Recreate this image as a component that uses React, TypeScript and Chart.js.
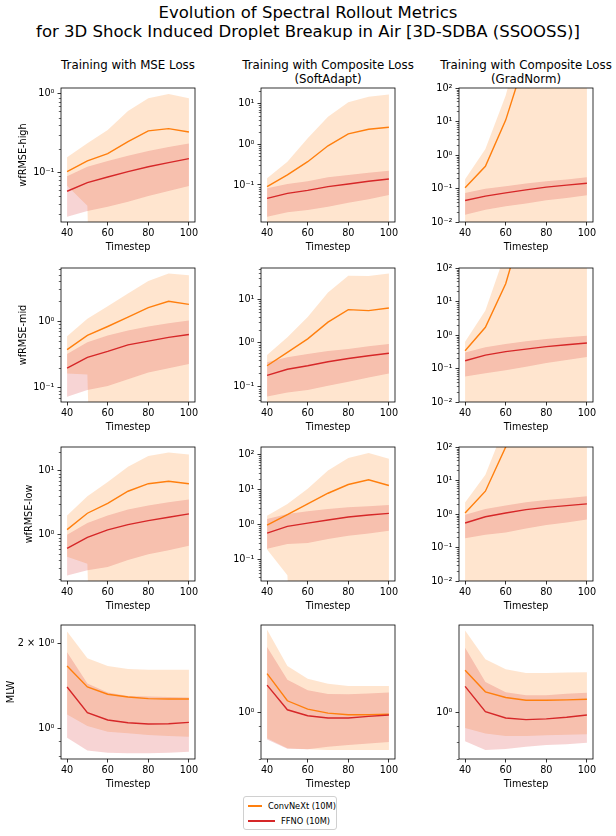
import React, { useEffect, useRef } from "react";
import { Chart, registerables } from "chart.js";

Chart.register(...registerables);

const FONT = "'DejaVu Sans', 'Liberation Sans', sans-serif";
Chart.defaults.font.family = FONT;
Chart.defaults.color = "#000";

// ---------------- data ----------------
const TIMESTEPS = [40, 50, 60, 70, 80, 90, 100];
const X_TICKS = [40, 60, 80, 100];
const TINY = 1e-12; // mean - std below zero (clipped on a log axis)

const COLUMN_TITLES = [
  ["Training with MSE Loss"],
  ["Training with Composite Loss", "(SoftAdapt)"],
  ["Training with Composite Loss", "(GradNorm)"],
];
const ROW_LABELS = ["wfRMSE-high", "wfRMSE-mid", "wfRMSE-low", "MLW"];
const SERIES_NAMES = ["ConvNeXt (10M)", "FFNO (10M)"];

// wfRMSE-high
const convHighMse = [0.103, 0.141, 0.174, 0.248, 0.339, 0.362, 0.329];
const convHighMseHi = [0.157, 0.237, 0.349, 0.608, 0.88, 1.0, 0.88];
const convHighMseLo = [0.068, 0.038, TINY, TINY, TINY, TINY, TINY];
const ffnoHighMse = [0.058, 0.0746, 0.088, 0.103, 0.119, 0.134, 0.151];
const ffnoHighMseHi = [0.09, 0.119, 0.141, 0.164, 0.189, 0.212, 0.234];
const ffnoHighMseLo = [0.0276, 0.0326, 0.037, 0.0428, 0.0506, 0.0586, 0.0678];

const convHighSoft = [0.091, 0.176, 0.372, 0.91, 1.78, 2.32, 2.6];
const convHighSoftHi = [0.146, 0.372, 1.4, 4.7, 10.6, 14.5, 16.5];
const convHighSoftLo = [TINY, TINY, TINY, TINY, TINY, TINY, TINY];
const ffnoHighSoft = [0.047, 0.0625, 0.074, 0.091, 0.106, 0.123, 0.14];
const ffnoHighSoftHi = [0.083, 0.106, 0.123, 0.155, 0.176, 0.2, 0.224];
const ffnoHighSoftLo = [0.0167, 0.0214, 0.0244, 0.0295, 0.0369, 0.0446, 0.057];

const convHighGrad = [0.105, 0.46, 11, 900, 3000, 5000, 6000];
const convHighGradHi = [0.19, 1.5, 60, 1e4, 3e4, 5e4, 6e4];
const convHighGradLo = [TINY, TINY, TINY, TINY, TINY, TINY, TINY];
const ffnoHighGrad = [0.044, 0.059, 0.074, 0.091, 0.11, 0.126, 0.144];
const ffnoHighGradHi = [0.074, 0.098, 0.117, 0.14, 0.165, 0.186, 0.217];
const ffnoHighGradLo = [0.0166, 0.0234, 0.0295, 0.0355, 0.0447, 0.052, 0.063];

// wfRMSE-mid
const convMidMse = [0.372, 0.61, 0.83, 1.15, 1.6, 1.99, 1.79];
const convMidMseHi = [0.59, 1.09, 1.67, 2.6, 4.0, 5.2, 4.9];
const convMidMseLo = [0.163, 0.158, TINY, TINY, TINY, TINY, TINY];
const ffnoMidMse = [0.196, 0.285, 0.35, 0.44, 0.5, 0.57, 0.63];
const ffnoMidMseHi = [0.32, 0.48, 0.61, 0.72, 0.83, 0.93, 1.02];
const ffnoMidMseLo = [0.073, 0.092, 0.106, 0.134, 0.169, 0.196, 0.226];

const convMidSoft = [0.3, 0.61, 1.24, 3.0, 5.8, 5.5, 6.3];
const convMidSoftHi = [0.53, 1.35, 3.9, 14.3, 34.5, 34, 39];
const convMidSoftLo = [TINY, TINY, TINY, TINY, TINY, TINY, TINY];
const ffnoMidSoft = [0.18, 0.25, 0.3, 0.37, 0.44, 0.51, 0.58];
const ffnoMidSoftHi = [0.36, 0.47, 0.56, 0.65, 0.73, 0.84, 0.95];
const ffnoMidSoftLo = [0.059, 0.073, 0.084, 0.104, 0.13, 0.161, 0.2];

const convMidGrad = [0.34, 1.7, 34, 4000, 1e4, 2e4, 3e4];
const convMidGradHi = [0.63, 5.4, 300, 3e4, 1e5, 1e5, 1e5];
const convMidGradLo = [TINY, TINY, TINY, TINY, TINY, TINY, TINY];
const ffnoMidGrad = [0.17, 0.25, 0.32, 0.38, 0.45, 0.51, 0.575];
const ffnoMidGradHi = [0.3, 0.43, 0.54, 0.65, 0.76, 0.85, 0.95];
const ffnoMidGradLo = [0.058, 0.072, 0.089, 0.112, 0.145, 0.18, 0.22];

// wfRMSE-low
const convLowMse = [1.2, 2.17, 3.1, 4.8, 6.3, 6.9, 6.3];
const convLowMseHi = [2.0, 4.0, 6.7, 11.6, 17.2, 19.5, 18.1];
const convLowMseLo = [0.45, 0.35, TINY, TINY, TINY, TINY, TINY];
const ffnoLowMse = [0.61, 0.91, 1.19, 1.44, 1.66, 1.88, 2.12];
const ffnoLowMseHi = [1.0, 1.53, 2.0, 2.48, 2.87, 3.24, 3.57];
const ffnoLowMseLo = [0.23, 0.277, 0.313, 0.4, 0.495, 0.573, 0.67];

const convLowSoft = [0.95, 1.88, 3.8, 7.7, 13.7, 18.7, 12.8];
const convLowSoftHi = [1.76, 3.8, 10.3, 34.6, 78, 109, 75];
const convLowSoftLo = [0.19, 0.035, TINY, TINY, TINY, TINY, TINY];
const ffnoLowSoft = [0.56, 0.87, 1.08, 1.32, 1.61, 1.84, 2.05];
const ffnoLowSoftHi = [1.41, 1.96, 2.34, 2.74, 3.06, 3.27, 3.56];
const ffnoLowSoftLo = [0.2, 0.27, 0.29, 0.376, 0.47, 0.546, 0.65];

const convLowGrad = [1.07, 4.8, 100, 5000, 2e4, 3e4, 4e4];
const convLowGradHi = [2.2, 14.8, 500, 5e4, 1e5, 1e5, 1e5];
const convLowGradLo = [TINY, TINY, TINY, TINY, TINY, TINY, TINY];
const ffnoLowGrad = [0.54, 0.83, 1.07, 1.35, 1.58, 1.78, 2.0];
const ffnoLowGradHi = [0.95, 1.41, 1.78, 2.24, 2.63, 2.95, 3.39];
const ffnoLowGradLo = [0.19, 0.24, 0.28, 0.37, 0.47, 0.56, 0.68];

// MLW
const convMlwMse = [1.66, 1.4, 1.32, 1.29, 1.274, 1.27, 1.27];
const convMlwMseHi = [2.2, 1.77, 1.66, 1.62, 1.61, 1.61, 1.61];
const convMlwMseLo = [1.12, 1.02, 0.973, 0.96, 0.947, 0.94, 0.934];
const ffnoMlwMse = [1.4, 1.137, 1.07, 1.047, 1.036, 1.038, 1.05];
const ffnoMlwMseHi = [1.86, 1.44, 1.34, 1.3, 1.295, 1.29, 1.285];
const ffnoMlwMseLo = [0.927, 0.834, 0.82, 0.816, 0.816, 0.82, 0.827];

const convMlwSoft = [1.34, 1.09, 1.023, 0.992, 0.98, 0.98, 0.985];
const convMlwSoftHi = [1.87, 1.42, 1.29, 1.24, 1.22, 1.22, 1.22];
const convMlwSoftLo = [0.82, 0.76, 0.754, 0.75, 0.749, 0.749, 0.75];
const ffnoMlwSoft = [1.228, 1.018, 0.973, 0.956, 0.956, 0.968, 0.978];
const ffnoMlwSoftHi = [1.64, 1.28, 1.18, 1.148, 1.145, 1.153, 1.162];
const ffnoMlwSoftLo = [0.812, 0.757, 0.754, 0.769, 0.779, 0.787, 0.796];

const convMlwGrad = [1.38, 1.17, 1.12, 1.097, 1.097, 1.1, 1.105];
const convMlwGradHi = [1.87, 1.5, 1.39, 1.35, 1.35, 1.355, 1.36];
const convMlwGradLo = [0.887, 0.85, 0.835, 0.835, 0.839, 0.843, 0.846];
const ffnoMlwGrad = [1.22, 1.005, 0.958, 0.946, 0.951, 0.963, 0.98];
const ffnoMlwGradHi = [1.64, 1.26, 1.167, 1.139, 1.14, 1.153, 1.162];
const ffnoMlwGradLo = [0.802, 0.75, 0.756, 0.769, 0.779, 0.784, 0.792];

// y axis ranges and tick labels
const Y_RANGES = [
  [[0.0236, 1.19], [0.0124, 23.7], [0.01, 100]],
  [[0.0607, 6.3], [0.0444, 52], [0.01, 100]],
  [[0.188, 23.7], [0.0238, 162], [0.01, 100]],
  [[0.779, 2.32], [0.713, 1.94], [0.719, 1.95]],
];
const TICKS_FULL = [0.01, 0.1, 1, 10, 100];
const LABELS_FULL = ["10\u207B\u00B2", "10\u207B\u00B9", "10\u2070", "10\u00B9", "10\u00B2"];
const Y_TICKS = [
  [[0.1, 1], [0.1, 1, 10], TICKS_FULL],
  [[0.1, 1], [0.1, 1, 10], TICKS_FULL],
  [[1, 10], [0.1, 1, 10, 100], TICKS_FULL],
  [[1, 2], [1], [1]],
];
const Y_TICK_LABELS = [
  [["10\u207B\u00B9", "10\u2070"], ["10\u207B\u00B9", "10\u2070", "10\u00B9"], LABELS_FULL],
  [["10\u207B\u00B9", "10\u2070"], ["10\u207B\u00B9", "10\u2070", "10\u00B9"], LABELS_FULL],
  [["10\u2070", "10\u00B9"], ["10\u207B\u00B9", "10\u2070", "10\u00B9", "10\u00B2"], LABELS_FULL],
  [["10\u2070", "2 \u00D7 10\u2070"], ["10\u2070"], ["10\u2070"]],
];

const SERIES = [
  [
    [convHighMse, convHighMseHi, convHighMseLo, ffnoHighMse, ffnoHighMseHi, ffnoHighMseLo],
    [convHighSoft, convHighSoftHi, convHighSoftLo, ffnoHighSoft, ffnoHighSoftHi, ffnoHighSoftLo],
    [convHighGrad, convHighGradHi, convHighGradLo, ffnoHighGrad, ffnoHighGradHi, ffnoHighGradLo],
  ],
  [
    [convMidMse, convMidMseHi, convMidMseLo, ffnoMidMse, ffnoMidMseHi, ffnoMidMseLo],
    [convMidSoft, convMidSoftHi, convMidSoftLo, ffnoMidSoft, ffnoMidSoftHi, ffnoMidSoftLo],
    [convMidGrad, convMidGradHi, convMidGradLo, ffnoMidGrad, ffnoMidGradHi, ffnoMidGradLo],
  ],
  [
    [convLowMse, convLowMseHi, convLowMseLo, ffnoLowMse, ffnoLowMseHi, ffnoLowMseLo],
    [convLowSoft, convLowSoftHi, convLowSoftLo, ffnoLowSoft, ffnoLowSoftHi, ffnoLowSoftLo],
    [convLowGrad, convLowGradHi, convLowGradLo, ffnoLowGrad, ffnoLowGradHi, ffnoLowGradLo],
  ],
  [
    [convMlwMse, convMlwMseHi, convMlwMseLo, ffnoMlwMse, ffnoMlwMseHi, ffnoMlwMseLo],
    [convMlwSoft, convMlwSoftHi, convMlwSoftLo, ffnoMlwSoft, ffnoMlwSoftHi, ffnoMlwSoftLo],
    [convMlwGrad, convMlwGradHi, convMlwGradLo, ffnoMlwGrad, ffnoMlwGradHi, ffnoMlwGradLo],
  ],
];

// ---------------- styles / layout ----------------
const ORANGE = "#ff7f0e";
const RED = "#d62728";
const ORANGE_BAND = "rgba(255,127,14,0.2)";
const RED_BAND = "rgba(214,39,40,0.2)";

const COL_LEFT = [61, 261, 459];
const ROW_TOP = [88, 268, 447, 625];
const BOX = 134;
const PAD_L = 50;
const PAD_T = 10;
const PAD_R = 10;
const PAD_B = 30;
const CW = BOX + PAD_L + PAD_R;
const CH = BOX + PAD_T + PAD_B;
const TICK_FONT = { family: FONT, size: 9.7 };
const YLABEL_X = [22, 22, 28, 10];

const framePlugin = {
  id: "frameAndMinor",
  afterDraw(chart: any, _args: any, opts: any) {
    const { ctx, chartArea: a } = chart;
    const ys = chart.scales.y;
    const majors: number[] = opts.majors || [];
    ctx.save();
    ctx.strokeStyle = "#000";
    ctx.lineWidth = 0.6;
    const lo = Math.floor(Math.log10(ys.min));
    const hi = Math.ceil(Math.log10(ys.max));
    for (let e = lo; e <= hi; e++) {
      for (let k = 2; k <= 9; k++) {
        const v = k * Math.pow(10, e);
        if (v < ys.min || v > ys.max) continue;
        if (majors.some((m) => Math.abs(m - v) / m < 1e-6)) continue;
        const y = Math.round(ys.getPixelForValue(v)) + 0.5;
        ctx.beginPath();
        ctx.moveTo(a.left - 2.2, y);
        ctx.lineTo(a.left, y);
        ctx.stroke();
      }
    }
    ctx.lineWidth = 0.8;
    ctx.strokeRect(a.left, a.top, a.right - a.left, a.bottom - a.top);
    ctx.restore();
  },
};

function Panel({ row, col }: { row: number; col: number }) {
  const ref = useRef<HTMLCanvasElement | null>(null);
  useEffect(() => {
    if (!ref.current) return;
    const [conv, convHi, convLo, ffno, ffnoHi, ffnoLo] = SERIES[row][col];
    const [yMin, yMax] = Y_RANGES[row][col];
    const ticks = Y_TICKS[row][col];
    const labels = Y_TICK_LABELS[row][col];
    const pts = (arr: number[]) => TIMESTEPS.map((x, i) => ({ x, y: arr[i] }));
    const line = (arr: number[], color: string, order: number) => ({
      data: pts(arr),
      borderColor: color,
      borderWidth: 1.4,
      pointRadius: 0,
      fill: false,
      order,
    });
    const bound = (arr: number[], order: number, fill: any, bg: string) => ({
      data: pts(arr),
      borderColor: "transparent",
      borderWidth: 0,
      pointRadius: 0,
      fill,
      backgroundColor: bg,
      order,
    });
    const grid = {
      display: true,
      drawOnChartArea: false,
      drawTicks: true,
      tickLength: 3.5,
      tickColor: "#000",
      tickWidth: 0.8,
      color: "#000",
      lineWidth: 0.8,
    };
    const chart = new Chart(ref.current, {
      type: "line",
      data: {
        datasets: [
          line(ffno, RED, 0),
          line(conv, ORANGE, 1),
          bound(ffnoHi, 2, { target: 3 }, RED_BAND),
          bound(ffnoLo, 3, false, "transparent"),
          bound(convHi, 4, { target: 5 }, ORANGE_BAND),
          bound(convLo, 5, false, "transparent"),
        ] as any,
      },
      plugins: [framePlugin],
      options: {
        responsive: false,
        animation: false,
        events: [],
        layout: { padding: { left: 0, right: PAD_R, top: PAD_T, bottom: 0 } },
        plugins: {
          legend: { display: false },
          tooltip: { enabled: false },
          filler: { drawTime: "beforeDatasetsDraw", propagate: false },
          frameAndMinor: { majors: ticks },
        } as any,
        scales: {
          x: {
            type: "linear",
            min: 37,
            max: 103,
            afterBuildTicks: (s: any) => {
              s.ticks = X_TICKS.map((v) => ({ value: v }));
            },
            afterFit: (s: any) => {
              s.height = PAD_B;
              s.paddingLeft = 0;
              s.paddingRight = 0;
            },
            grid,
            border: { display: false },
            ticks: {
              padding: 2,
              color: "#000",
              font: TICK_FONT,
              maxRotation: 0,
              autoSkip: false,
              callback: (v: any) => String(v),
            },
          },
          y: {
            type: "logarithmic",
            min: yMin,
            max: yMax,
            afterBuildTicks: (s: any) => {
              s.ticks = ticks.map((v) => ({ value: v }));
            },
            afterFit: (s: any) => {
              s.width = PAD_L;
              s.paddingTop = 0;
              s.paddingBottom = 0;
            },
            grid,
            border: { display: false },
            ticks: {
              padding: 3,
              color: "#000",
              font: TICK_FONT,
              autoSkip: false,
              callback: (_v: any, i: number) => labels[i],
            },
          },
        } as any,
      },
    });
    return () => chart.destroy();
  }, [row, col]);
  return (
    <canvas
      ref={ref}
      width={CW}
      height={CH}
      style={{
        position: "absolute",
        left: COL_LEFT[col] - PAD_L,
        top: ROW_TOP[row] - PAD_T,
        width: CW,
        height: CH,
      }}
    />
  );
}

const centered: React.CSSProperties = {
  position: "absolute",
  transform: "translate(-50%, -50%)",
  whiteSpace: "nowrap",
};

export default function App() {
  const panels: React.ReactNode[] = [];
  const texts: React.ReactNode[] = [];
  for (let r = 0; r < 4; r++) {
    for (let c = 0; c < 3; c++) {
      panels.push(<Panel key={`p${r}${c}`} row={r} col={c} />);
      texts.push(
        <div
          key={`t${r}${c}`}
          style={{ ...centered, left: COL_LEFT[c] + BOX / 2, top: ROW_TOP[r] + BOX + 24, fontSize: 9.7 }}
        >
          Timestep
        </div>
      );
    }
    texts.push(
      <div
        key={`yl${r}`}
        style={{
          ...centered,
          left: YLABEL_X[r],
          top: ROW_TOP[r] + BOX / 2,
          fontSize: 9.7,
          transform: "translate(-50%, -50%) rotate(-90deg)",
        }}
      >
        {ROW_LABELS[r]}
      </div>
    );
  }
  return (
    <div
      style={{
        position: "absolute",
        left: 0,
        top: 0,
        width: 616,
        height: 836,
        overflow: "hidden",
        background: "#fff",
        fontFamily: FONT,
        color: "#000",
      }}
    >
      <div
        style={{
          position: "absolute",
          left: 0,
          top: 3,
          width: 616,
          textAlign: "center",
          fontSize: 16.5,
          lineHeight: "19px",
        }}
      >
        <div>Evolution of Spectral Rollout Metrics</div>
        <div>for 3D Shock Induced Droplet Breakup in Air [3D-SDBA (SSOOSS)]</div>
      </div>
      {COLUMN_TITLES.map((lines, c) => (
        <div
          key={`ct${c}`}
          style={{
            position: "absolute",
            left: COL_LEFT[c] + BOX / 2 - 130,
            width: 260,
            top: 58,
            textAlign: "center",
            fontSize: 11.8,
            lineHeight: "14px",
            whiteSpace: "nowrap",
          }}
        >
          {lines.map((l, i) => (
            <div key={i}>{l}</div>
          ))}
        </div>
      ))}
      {panels}
      {texts}
      <div
        style={{
          position: "absolute",
          left: 243,
          top: 796,
          width: 94,
          height: 34,
          boxSizing: "border-box",
          border: "1px solid #d0d0d0",
          borderRadius: 3,
          paddingTop: 1,
          fontSize: 8.3,
        }}
      >
        {SERIES_NAMES.map((name, i) => (
          <div key={name} style={{ display: "flex", alignItems: "center", height: 15 }}>
            <div
              style={{
                marginLeft: 4,
                width: 27,
                height: 0,
                borderTop: `2px solid ${i === 0 ? ORANGE : RED}`,
              }}
            />
            <div style={{ marginLeft: 6, whiteSpace: "nowrap" }}>{name}</div>
          </div>
        ))}
      </div>
    </div>
  );
}
